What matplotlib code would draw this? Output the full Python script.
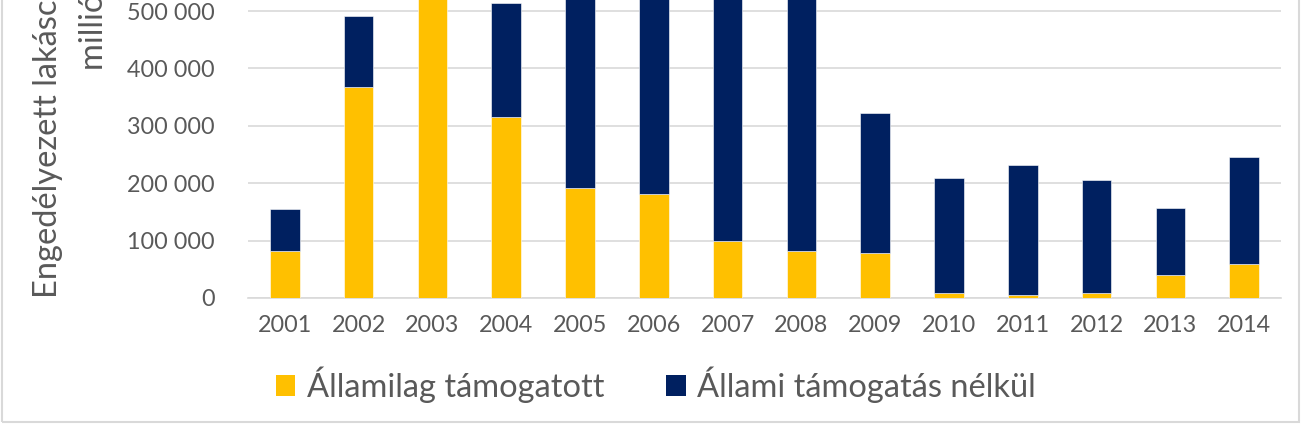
import matplotlib
matplotlib.use("Agg")
import matplotlib.pyplot as plt
from matplotlib.patches import Rectangle, Patch
from matplotlib.ticker import FuncFormatter

years = ["2001", "2002", "2003", "2004", "2005", "2006", "2007",
         "2008", "2009", "2010", "2011", "2012", "2013", "2014"]
supported = [82000, 367000, 560000, 315000, 192000, 181000, 99000,
             82000, 78000, 9000, 5000, 9000, 40000, 59000]
unsupported = [73000, 124000, 30000, 199000, 470000, 520000, 650000,
               640000, 244000, 200000, 227000, 197000, 117000, 187000]
series_names = ["Államilag támogatott", "Állami támogatás nélkül"]
ylabel_line1 = "Engedélyezett lakáscélú hitelek,"
ylabel_line2 = "millió forint"

YELLOW = "#FFC000"
NAVY = "#002060"
GRAY = "#595959"
GRID = "#D9D9D9"

plt.rcParams["font.family"] = ["Lato", "DejaVu Sans"]

W, H = 1302, 425
fig = plt.figure(figsize=(W / 100, H / 100), dpi=100)

px_per_unit = 57.4 / 100000
ymax = 600000
ax_left, ax_right, ax_bottom = 248, 1281, 298
ax_h = ymax * px_per_unit
ax = fig.add_axes([ax_left / W, (H - ax_bottom) / H, (ax_right - ax_left) / W, ax_h / H])

x = list(range(len(years)))
ax.bar(x, supported, width=0.4, color=YELLOW, edgecolor="white", linewidth=0.4, zorder=3)
ax.bar(x, unsupported, width=0.4, bottom=supported, color=NAVY, edgecolor="white", linewidth=0.4, zorder=3)

ax.set_xlim(-0.5, len(years) - 0.5)
ax.set_ylim(0, ymax)
ax.set_yticks(range(0, 500001, 100000))
ax.yaxis.set_major_formatter(FuncFormatter(lambda v, p: f"{int(v):,}".replace(",", " ")))
ax.set_xticks(x)
ax.set_xticklabels(years)
ax.grid(axis="y", color=GRID, linewidth=1.2, zorder=0)
for s in ["top", "right", "left"]:
    ax.spines[s].set_visible(False)
ax.spines["bottom"].set_color(GRID)
ax.spines["bottom"].set_linewidth(1.2)
ax.tick_params(axis="both", length=0, colors=GRAY, labelsize=16.8)
ax.tick_params(axis="y", pad=24)
ax.tick_params(axis="x", pad=12)

fig.text(48 / W, (H - 298) / H, ylabel_line1, rotation=90, ha="center", va="bottom",
         fontsize=23.5, color=GRAY)
fig.text(94 / W, (H - 70) / H, ylabel_line2, rotation=90, ha="center", va="bottom",
         fontsize=23.5, color=GRAY)

handles = [Patch(facecolor=YELLOW), Patch(facecolor=NAVY)]
fig.legend(handles, series_names, loc="center", bbox_to_anchor=(656 / W, 1 - 385 / H),
           ncol=2, frameon=False, fontsize=23.5, labelcolor=GRAY,
           handlelength=0.6, handleheight=0.6, handletextpad=0.35, columnspacing=1.9)

fig.patches.append(Rectangle((2 / W, 3 / H), (W - 5) / W, 1.2, transform=fig.transFigure,
                             fill=False, edgecolor="#D9D9D9", linewidth=1.5, clip_on=False))

fig.savefig("out.png", dpi=100)
